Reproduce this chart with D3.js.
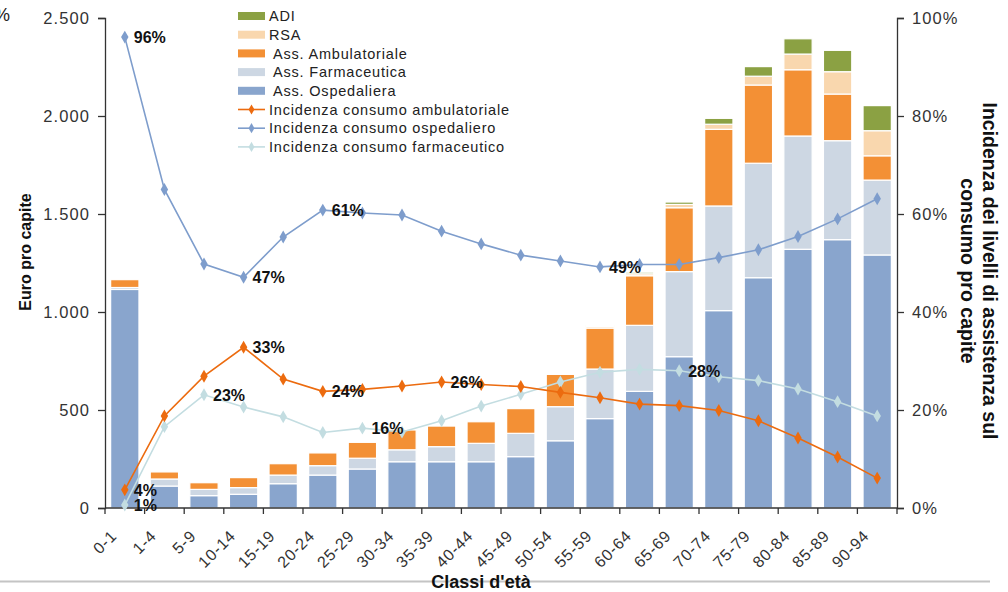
<!DOCTYPE html>
<html>
<head>
<meta charset="utf-8">
<script src="https://cdn.jsdelivr.net/npm/d3@7"></script>
<style>
  body { margin: 0; background: #fff; }
  svg { display: block; font-family: "Liberation Sans", Arial, sans-serif; }
</style>
</head>
<body>
<div id="chart"></div>
<script>
// age classes
var ages = ["0-1", "1-4", "5-9", "10-14", "15-19", "20-24", "25-29", "30-34", "35-39", "40-44",
    "45-49", "50-54", "55-59", "60-64", "65-69", "70-74", "75-79", "80-84", "85-89", "90-94"];

// euro pro capite, stacked bars
var ospedaliera = [1115, 112, 63, 70, 124, 168, 199, 236, 236, 236, 262, 343, 456, 595, 772, 1007, 1175, 1320, 1369, 1291];
var farmaceutica = [10, 36, 32, 34, 44, 48, 55, 61, 77, 94, 119, 174, 253, 337, 434, 534, 584, 578, 505, 382];
var ambulatoriale = [40, 36, 34, 51, 58, 65, 81, 101, 105, 110, 126, 165, 209, 253, 326, 391, 399, 338, 238, 124];
var rsa = [0, 0, 0, 0, 0, 0, 0, 0, 0, 0, 0, 3, 8, 10, 17, 26, 45, 80, 114, 128];
var adi = [0, 0, 0, 0, 0, 0, 0, 0, 0, 0, 0, 2, 5, 8, 12, 30, 49, 78, 109, 128];

// incidenza (%), right axis
var incAmb = [3.7, 18.8, 26.9, 32.8, 26.3, 23.8, 24.2, 24.9, 25.7, 25.2, 24.8, 23.6, 22.5, 21.2, 20.9, 19.9, 17.8, 14.3, 10.4, 6.1];
var incOsp = [96.1, 65.0, 49.8, 47.1, 55.3, 60.8, 60.2, 59.8, 56.5, 53.9, 51.6, 50.4, 49.2, 49.7, 49.7, 51.1, 52.7, 55.4, 59.0, 63.1];
var incFarm = [0.6, 16.6, 23.1, 20.6, 18.6, 15.4, 16.3, 15.5, 17.8, 20.8, 23.2, 25.7, 27.7, 28.3, 28.0, 26.8, 26.0, 24.3, 21.7, 18.8];

// point labels: [index, text]
var labOsp = [[0, "96%"], [3, "47%"], [5, "61%"], [12, "49%"]];
var labAmb = [[0, "4%"], [3, "33%"], [5, "24%"], [8, "26%"]];
var labFarm = [[0, "1%"], [2, "23%"], [6, "16%"], [14, "28%"]];

var leftTicks = [0, 500, 1000, 1500, 2000, 2500];
var rightTicks = [0, 20, 40, 60, 80, 100];

var width = 1008, height = 592;
var margin = {top: 18, right: 111, bottom: 84, left: 105};

var svg = d3.select("#chart").append("svg")
    .attr("width", width)
    .attr("height", height);

var x = d3.scaleBand()
    .domain(ages)
    .range([margin.left, width - margin.right])
    .paddingInner(0.285)
    .paddingOuter(0.1425);

var y = d3.scaleLinear().domain([0, 2500]).range([height - margin.bottom, margin.top]);
var y2 = d3.scaleLinear().domain([0, 100]).range([height - margin.bottom, margin.top]);

var keys = ["ospedaliera", "farmaceutica", "ambulatoriale", "rsa", "adi"];
var colors = {
    ospedaliera: "#89a5cd",
    farmaceutica: "#cdd7e3",
    ambulatoriale: "#f39035",
    rsa: "#f9d7ae",
    adi: "#8ba143"
};

var table = ages.map(function (a, i) {
    return {
        age: a, ospedaliera: ospedaliera[i], farmaceutica: farmaceutica[i],
        ambulatoriale: ambulatoriale[i], rsa: rsa[i], adi: adi[i]
    };
});

var stacked = d3.stack().keys(keys)(table);

// bars
svg.append("g").selectAll("g")
    .data(stacked)
    .enter().append("g")
    .attr("fill", function (d) { return colors[d.key]; })
    .selectAll("rect")
    .data(function (d) { return d; })
    .enter().append("rect")
    .attr("x", function (d) { return x(d.data.age); })
    .attr("width", x.bandwidth())
    .attr("y", function (d) { return y(d[1]); })
    .attr("height", function (d) { return Math.max(0, y(d[0]) - y(d[1])); })
    .attr("stroke", "#fff")
    .attr("stroke-width", 1.2);

// axes
var fmt = function (d) { return d3.format(",")(d).replace(/,/g, "."); };

var gl = svg.append("g")
    .attr("transform", "translate(" + margin.left + ",0)")
    .call(d3.axisLeft(y).tickValues(leftTicks).tickFormat(fmt).tickSize(7).tickPadding(8));
var gr = svg.append("g")
    .attr("transform", "translate(" + (width - margin.right) + ",0)")
    .call(d3.axisRight(y2).tickValues(rightTicks).tickFormat(function (d) { return d + "%"; }).tickSize(7).tickPadding(8));

[gl, gr].forEach(function (g) {
    g.select(".domain").attr("stroke", "#333").attr("stroke-width", 1.3);
    g.selectAll(".tick line").attr("stroke", "#333").attr("stroke-width", 1.3);
    g.selectAll(".tick text")
        .style("font-size", "16.5px")
        .style("letter-spacing", "1.1px")
        .style("font-family", "'Liberation Sans', Arial, sans-serif")
        .attr("fill", "#333");
});

// x axis: baseline, boundary ticks, rotated labels
var base = height - margin.bottom;
svg.append("line")
    .attr("x1", margin.left).attr("x2", width - margin.right)
    .attr("y1", base).attr("y2", base)
    .attr("stroke", "#333").attr("stroke-width", 1.3);

svg.append("g").selectAll("line")
    .data(d3.range(ages.length + 1))
    .enter().append("line")
    .attr("x1", function (i) { return margin.left + i * x.step(); })
    .attr("x2", function (i) { return margin.left + i * x.step(); })
    .attr("y1", base).attr("y2", base + 6)
    .attr("stroke", "#333").attr("stroke-width", 1.3);

svg.append("g").selectAll("text")
    .data(ages)
    .enter().append("text")
    .attr("transform", function (d) {
        return "translate(" + (x(d) + x.bandwidth() / 2 - 7) + "," + (base + 29) + ") rotate(-45)";
    })
    .attr("text-anchor", "end")
    .style("font-size", "16px")
    .style("letter-spacing", "0.8px")
    .attr("fill", "#333")
    .text(function (d) { return d; });

// lines
var cx = function (i) { return x(ages[i]) + x.bandwidth() / 2; };
var series = [
    {vals: incFarm, color: "#c3dde1", labels: labFarm},
    {vals: incOsp, color: "#7e9dcc", labels: labOsp},
    {vals: incAmb, color: "#ec6b0f", labels: labAmb}
];

var line = d3.line()
    .x(function (d, i) { return cx(i); })
    .y(function (d) { return y2(d); });

var diamond = d3.symbol().type(d3.symbolDiamond).size(48);

series.forEach(function (s) {
    svg.append("path")
        .datum(s.vals)
        .attr("d", line)
        .attr("fill", "none")
        .attr("stroke", s.color)
        .attr("stroke-width", 1.6);

    svg.append("g").selectAll("path")
        .data(s.vals)
        .enter().append("path")
        .attr("d", diamond)
        .attr("transform", function (d, i) { return "translate(" + cx(i) + "," + y2(d) + ")"; })
        .attr("fill", s.color);
});

series.forEach(function (s) {
    svg.append("g").selectAll("text")
        .data(s.labels)
        .enter().append("text")
        .attr("x", function (d) { return cx(d[0]) + 9; })
        .attr("y", function (d) { return y2(s.vals[d[0]]); })
        .attr("dy", "0.36em")
        .style("font-size", "16px")
        .style("font-weight", "bold")
        .attr("fill", "#111")
        .text(function (d) { return d[1]; });
});

// legend
var legendItems = [
    {name: "ADI", color: colors.adi, type: "rect"},
    {name: "RSA", color: colors.rsa, type: "rect"},
    {name: " Ass. Ambulatoriale", color: colors.ambulatoriale, type: "rect"},
    {name: " Ass. Farmaceutica", color: colors.farmaceutica, type: "rect"},
    {name: " Ass. Ospedaliera", color: colors.ospedaliera, type: "rect"},
    {name: "Incidenza consumo ambulatoriale", color: "#ec6b0f", type: "line"},
    {name: "Incidenza consumo ospedaliero", color: "#7e9dcc", type: "line"},
    {name: "Incidenza consumo farmaceutico", color: "#c3dde1", type: "line"}
];

var legend = svg.append("g").selectAll("g")
    .data(legendItems)
    .enter().append("g")
    .attr("transform", function (d, i) { return "translate(238," + (16 + i * 18.7) + ")"; });

legend.filter(function (d) { return d.type === "rect"; })
    .append("rect")
    .attr("x", 0).attr("y", -4).attr("width", 27).attr("height", 8)
    .attr("fill", function (d) { return d.color; });

legend.filter(function (d) { return d.type === "line"; })
    .append("line")
    .attr("x1", 0).attr("x2", 27).attr("y1", 0).attr("y2", 0)
    .attr("stroke", function (d) { return d.color; })
    .attr("stroke-width", 1.6);

legend.filter(function (d) { return d.type === "line"; })
    .append("path")
    .attr("d", d3.symbol().type(d3.symbolDiamond).size(30))
    .attr("transform", "translate(13.5,0)")
    .attr("fill", function (d) { return d.color; });

legend.append("text")
    .attr("x", 31)
    .attr("dy", "0.36em")
    .attr("xml:space", "preserve")
    .style("white-space", "pre")
    .style("font-size", "14.5px")
    .style("letter-spacing", "0.8px")
    .attr("fill", "#222")
    .text(function (d) { return d.name; });

// axis titles
svg.append("text")
    .attr("transform", "translate(31,252) rotate(-90)")
    .attr("text-anchor", "middle")
    .style("font-size", "16px")
    .style("font-weight", "bold")
    .attr("fill", "#111")
    .text("Euro pro capite");

var rt = svg.append("text")
    .attr("transform", "translate(983,271) rotate(90)")
    .attr("text-anchor", "middle")
    .style("font-size", "19.5px")
    .style("font-weight", "bold")
    .attr("fill", "#111");
rt.append("tspan").attr("x", 0).attr("dy", 0).text("Incidenza dei livelli di assistenza sul");
rt.append("tspan").attr("x", 0).attr("dy", 22).text("consumo pro capite");

svg.append("text")
    .attr("x", -6).attr("y", 21)
    .style("font-size", "18px")
    .attr("fill", "#222")
    .text("%");

// bottom separator + x title
svg.append("line")
    .attr("x1", 0).attr("x2", 990).attr("y1", 581.5).attr("y2", 581.5)
    .attr("stroke", "#c4c4c4").attr("stroke-width", 2);

svg.append("text")
    .attr("x", 481).attr("y", 588)
    .attr("text-anchor", "middle")
    .style("font-size", "18px")
    .style("font-weight", "bold")
    .attr("fill", "#111")
    .text("Classi d'età");
</script>
</body>
</html>
